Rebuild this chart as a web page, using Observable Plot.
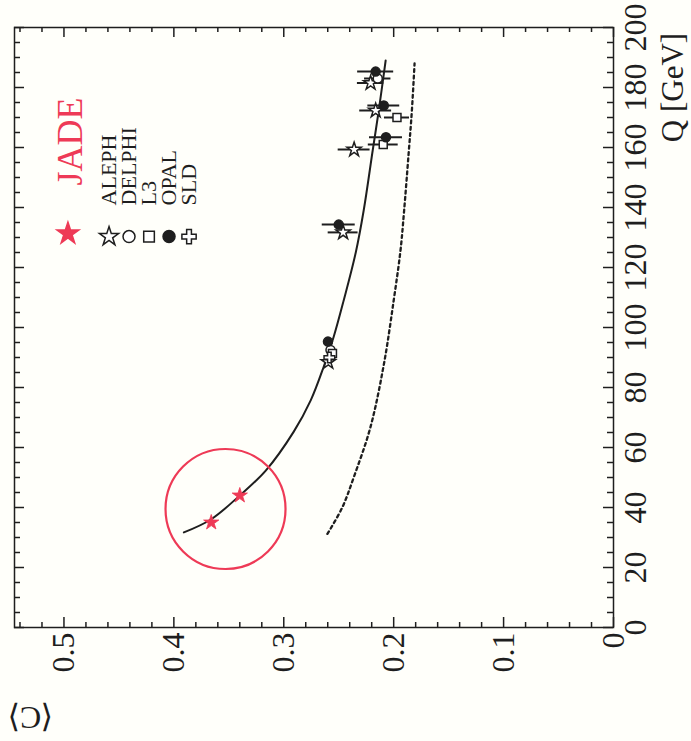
<!DOCTYPE html>
<html>
<head>
<meta charset="utf-8">
<script src="https://cdn.jsdelivr.net/npm/d3@7"></script>
<script src="https://cdn.jsdelivr.net/npm/@observablehq/plot@0.6"></script>
<style>
  html, body { margin: 0; padding: 0; background: #fffffa; }
  #chart svg { display: block; }
</style>
</head>
<body>
<div id="chart"></div>
<script>
// Mean C-parameter <C> versus centre-of-mass energy Q [GeV]

// JADE measurements
const jadeQ = [35, 44];
const jadeC = [0.366, 0.340];

// LEP and SLC measurements (Q, <C>, uncertainty on <C>)
const alephQ = [88.5, 131.7, 159.3, 172.3, 181.5];
const alephC = [0.2595, 0.246, 0.236, 0.2164, 0.221];
const alephErr = [0, 0.0136, 0.0145, 0.0145, 0.012];

const delphiQ = [92.5, 183];
const delphiC = [0.2575, 0.2145];
const delphiErr = [0, 0.012];

const l3Q = [91.3, 161, 170];
const l3C = [0.2557, 0.2095, 0.197];
const l3Err = [0, 0.0136, 0.0114];

const opalQ = [95.3, 134.3, 163.4, 174, 185.3];
const opalC = [0.2598, 0.250, 0.207, 0.209, 0.2164];
const opalErr = [0, 0.015, 0.015, 0.0145, 0.0164];

const sldQ = [90];
const sldC = [0.2585];
const sldErr = [0];

// QCD prediction with power corrections (solid)
const fitQ = [31.7, 36.0, 44.3, 52.3, 65.3, 75.7, 87.0, 97.0, 109.0, 125.0, 139.0, 159.0, 172.3, 189.0];
const fitC = [0.3909, 0.3664, 0.3391, 0.3164, 0.2909, 0.2755, 0.2636, 0.2545, 0.2455, 0.2345, 0.2273, 0.2191, 0.2136, 0.2073];

// perturbative prediction alone (dotted)
const pertQ = [31.2, 40, 50, 66.7, 88, 109, 125.7, 139, 158, 172, 188];
const pertC = [0.2603, 0.2468, 0.2364, 0.2212, 0.2088, 0.2, 0.1938, 0.1905, 0.1864, 0.1835, 0.181];

// axis ticks and labels
const cTicks = [0, 0.1, 0.2, 0.3, 0.4, 0.5];
const cTickLabels = ["0", "0.1", "0.2", "0.3", "0.4", "0.5"];
const qTicks = [0, 20, 40, 60, 80, 100, 120, 140, 160, 180, 200];
const qTickLabels = ["0", "20", "40", "60", "80", "100", "120", "140", "160", "180", "200"];

// legend entries
const experiments = ["ALEPH", "DELPHI", "L3", "OPAL", "SLD"];
const expSymbols = ["star", "circle", "square", "circle", "cross"];
const expFilled = [false, false, false, true, false];

const ink = "#1e1e1e";
const red = "#ee3a56";
const font = "'Liberation Serif', 'Times New Roman', serif";

const W = 691, H = 741;
const mL = 14, mR = 78, mT = 27, mB = 114;
const frameW = W - mL - mR, frameH = H - mT - mB;

const cMinor = d3.range(0, 0.545, 0.02).filter(v => !cTicks.some(t => Math.abs(t - v) < 1e-9));
const qMinor = d3.range(0, 201, 5).filter(v => v % 20 !== 0);

const series = [
  [alephQ, alephC, alephErr],
  [delphiQ, delphiC, delphiErr],
  [l3Q, l3C, l3Err],
  [opalQ, opalC, opalErr],
  [sldQ, sldC, sldErr]
].map(([q, c, e], k) => q.map((v, i) => ({exp: experiments[k], k, Q: v, C: c[i], err: e[i]})));

const jade = jadeQ.map((q, i) => ({Q: q, C: jadeC[i]}));
const fit = fitQ.map((q, i) => ({Q: q, C: fitC[i]}));
const pert = pertQ.map((q, i) => ({Q: q, C: pertC[i]}));
const jadeCentre = [{Q: d3.mean(jadeQ), C: d3.mean(jadeC)}];

// legend placement in data units
const legendC0 = 0.459, legendStep = 0.0182;
const legend = experiments.map((name, i) => ({name, i, C: legendC0 - i * legendStep}));

const marks = [
  Plot.frame({stroke: ink, strokeWidth: 1.5}),
  // inward ticks on all four sides
  Plot.tickX(cTicks, {x: d => d, insetTop: frameH - 10, stroke: ink, strokeWidth: 1.5}),
  Plot.tickX(cTicks, {x: d => d, insetBottom: frameH - 10, stroke: ink, strokeWidth: 1.5}),
  Plot.tickX(cMinor, {x: d => d, insetTop: frameH - 5, stroke: ink, strokeWidth: 1.5}),
  Plot.tickX(cMinor, {x: d => d, insetBottom: frameH - 5, stroke: ink, strokeWidth: 1.5}),
  Plot.tickY(qTicks, {y: d => d, insetLeft: frameW - 10, stroke: ink, strokeWidth: 1.5}),
  Plot.tickY(qTicks, {y: d => d, insetRight: frameW - 10, stroke: ink, strokeWidth: 1.5}),
  Plot.tickY(qMinor, {y: d => d, insetLeft: frameW - 6, stroke: ink, strokeWidth: 1.5}),
  Plot.tickY(qMinor, {y: d => d, insetRight: frameW - 6, stroke: ink, strokeWidth: 1.5}),
  // tick labels
  Plot.text(cTicks, {x: d => d, text: (d, i) => cTickLabels[i], frameAnchor: "bottom", dy: 5,
    rotate: -90, textAnchor: "end", lineAnchor: "middle", fontSize: 32, fill: ink}),
  Plot.text(qTicks, {y: d => d, text: (d, i) => qTickLabels[i], frameAnchor: "right", dx: 22,
    rotate: -90, textAnchor: "middle", lineAnchor: "middle", fontSize: 32, fill: ink}),
  // axis titles
  Plot.text(["Q [GeV]"], {frameAnchor: "top-right", dx: 60, dy: 60, rotate: -90,
    textAnchor: "middle", lineAnchor: "middle", fontSize: 31, fill: ink}),
  Plot.text(["\u27E8C\u27E9"], {frameAnchor: "bottom-left", dx: 16, dy: 90, rotate: 180,
    textAnchor: "middle", lineAnchor: "middle", fontSize: 32, fill: ink}),
  // predictions
  Plot.line(pert, {x: "C", y: "Q", stroke: ink, strokeWidth: 2.3, strokeDasharray: "3,3.4", curve: "catmull-rom"}),
  Plot.line(fit, {x: "C", y: "Q", stroke: ink, strokeWidth: 2, curve: "catmull-rom"}),
  // JADE highlight ring
  Plot.dot(jadeCentre, {x: "C", y: "Q", r: 60, stroke: red, strokeWidth: 2.2, fill: "none"}),
  // error bars
  ...series.map(s => Plot.ruleY(s.filter(d => d.err > 0), {y: "Q", x1: d => d.C - d.err, x2: d => d.C + d.err, stroke: ink, strokeWidth: 2})),
  // measurements
  ...series.map((s, k) => Plot.dot(s, {x: "C", y: "Q", symbol: expSymbols[k], r: 4.5,
    fill: expFilled[k] ? ink : "white", stroke: ink, strokeWidth: 1.5})),
  Plot.dot(jade, {x: "C", y: "Q", symbol: "star", r: 4.8, fill: red, stroke: red, strokeWidth: 0.8}),
  // legend
  Plot.text(["JADE"], {x: () => 0.4945, y: () => 147.3, rotate: -90, textAnchor: "start",
    lineAnchor: "middle", fontSize: 36, fill: red}),
  Plot.dot([0], {x: () => 0.4964, y: () => 131.3, symbol: "star", r: 6.9, fill: red, stroke: red}),
  Plot.text(legend, {x: "C", y: () => 140.7, text: "name", rotate: -90, textAnchor: "start",
    lineAnchor: "middle", fontSize: 22, fill: ink}),
  ...legend.map(d => Plot.dot([d], {x: "C", y: () => 130.3, symbol: expSymbols[d.i], r: 6,
    fill: expFilled[d.i] ? ink : "white", stroke: ink, strokeWidth: 1.5}))
];

const chart = Plot.plot({
  width: W,
  height: H,
  marginLeft: mL,
  marginRight: mR,
  marginTop: mT,
  marginBottom: mB,
  x: {domain: [0, 0.545], reverse: true, axis: null},
  y: {domain: [0, 200], axis: null},
  style: {fontFamily: font, background: "#fffffa", color: ink},
  marks
});

document.getElementById("chart").append(chart);
</script>
</body>
</html>
